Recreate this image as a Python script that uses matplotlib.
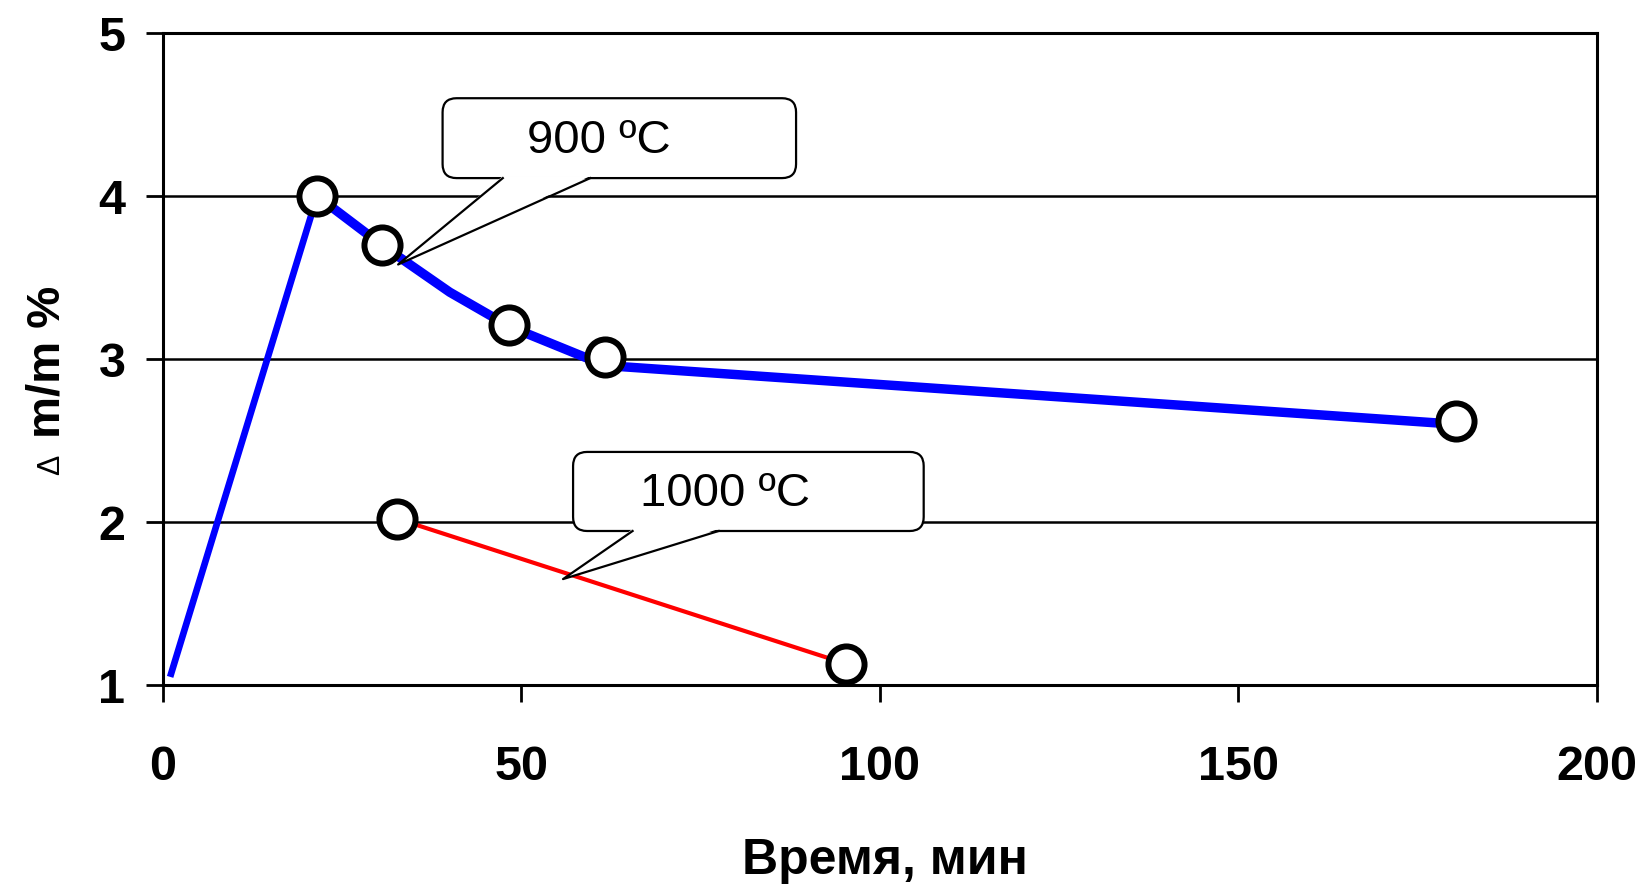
import matplotlib
matplotlib.use("Agg")
import matplotlib.pyplot as plt
from matplotlib.patches import FancyBboxPatch, Polygon
from matplotlib.lines import Line2D
from matplotlib.transforms import IdentityTransform

# 900 C series (line incl. an unmarked kink at 40 min)
time_900 = [1, 21.5, 30.5, 40, 48.3, 61.7, 180.3]
dm_900 = [1.05, 4.0, 3.7, 3.41, 3.2, 2.96, 2.6]
# points shown with circles
time_900_pts = [21.5, 30.5, 48.3, 61.7, 180.3]
dm_900_pts = [4.0, 3.7, 3.21, 3.01, 2.62]

# 1000 C series
time_1000 = [32.7, 95.3]
dm_1000 = [2.02, 1.13]

x_ticks = [0, 50, 100, 150, 200]
y_ticks = [1, 2, 3, 4, 5]

FONT = "Liberation Sans"
plt.rcParams["font.family"] = [FONT, "DejaVu Sans"]

fig = plt.figure(figsize=(16.46, 8.90), dpi=100)
ax = fig.add_axes([0.0990, 0.2303, 0.8712, 0.7326])

ax.set_xlim(0, 200)
ax.set_ylim(1, 5)
ax.set_xticks(x_ticks)
ax.set_yticks(y_ticks)
ax.yaxis.grid(True, color="black", linewidth=1.8)
ax.set_axisbelow(True)
for s in ax.spines.values():
    s.set_linewidth(2.2)

ax.tick_params(axis="both", which="major", direction="out", length=12, width=2,
               labelsize=35)
ax.tick_params(axis="y", pad=15)
ax.tick_params(axis="x", pad=31)
for lab in ax.get_xticklabels() + ax.get_yticklabels():
    lab.set_fontweight("bold")

# thin rising part, then thick decay
ax.plot(time_900[:2], dm_900[:2], color="#0000ff", linewidth=4.8,
        solid_capstyle="butt", zorder=3)
ax.plot(time_900[1:], dm_900[1:], color="#0000ff", linewidth=6.8,
        solid_capstyle="butt", solid_joinstyle="round", zorder=3)
ax.plot(time_1000, dm_1000, color="#ff0000", linewidth=3.0, zorder=3)

mk = dict(linestyle="none", marker="o", markersize=26, markerfacecolor="white",
          markeredgecolor="black", markeredgewidth=4.3, zorder=4)
ax.plot(time_900_pts, dm_900_pts, **mk)
ax.plot(time_1000, dm_1000, **mk)


def bubble(box, base, tip, text, text_xy):
    """speech bubble: box=(x0, y0, x1, y1) in data, base = tail x on box bottom"""
    T = ax.transData
    x0, y0 = T.transform((box[0], box[1]))
    x1, y1 = T.transform((box[2], box[3]))
    r = 14
    rect = FancyBboxPatch((x0 + r, y0 + r), (x1 - x0) - 2 * r, (y1 - y0) - 2 * r,
                          boxstyle=f"round,pad={r}", transform=IdentityTransform(),
                          facecolor="white", edgecolor="black", linewidth=1.6,
                          zorder=6, clip_on=False)
    ax.add_artist(rect)
    bx0 = T.transform((base[0], box[1]))[0]
    bx1 = T.transform((base[1], box[1]))[0]
    tx, ty = T.transform(tip)
    poly = Polygon([(bx0, y0 + 2), (tx, ty), (bx1, y0 + 2)], closed=True,
                   transform=IdentityTransform(), facecolor="white",
                   edgecolor="none", zorder=7, clip_on=False)
    ax.add_artist(poly)
    ax.add_artist(Line2D([bx0, tx, bx1], [y0, ty, y0], color="black",
                         linewidth=1.6, transform=IdentityTransform(), zorder=8,
                         clip_on=False))
    ax.text(text_xy[0], text_xy[1], text, fontsize=34, ha="center", va="center",
            zorder=9)


bubble((39.0, 4.11, 88.3, 4.60), (47.4, 59.6), (32.8, 3.58), "900 ºC", (60.8, 4.335))
bubble((57.2, 1.945, 106.1, 2.43), (65.5, 77.5), (55.8, 1.65), "1000 ºC", (78.4, 2.175))

# axis titles
fig.text(885 / 1646, 1 - 861 / 890, "Время, мин", fontsize=36, fontweight="bold",
         ha="center", va="center")
fig.text(47 / 1646, 1 - 362 / 890, "m/m %", fontsize=34, fontweight="bold",
         rotation=90, ha="center", va="center")
fig.text(51 / 1646, 1 - 465 / 890, "Δ", fontsize=22, rotation=90,
         ha="center", va="center")

fig.savefig("out.png", dpi=100)
